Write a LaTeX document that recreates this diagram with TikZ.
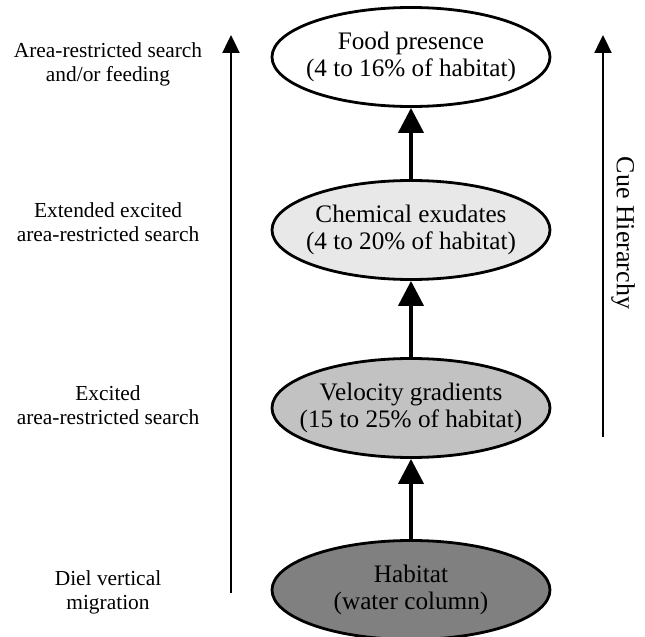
\documentclass[tikz,border=0pt]{standalone}
\usepackage{fontspec}
\setmainfont{Liberation Serif}
\usetikzlibrary{shapes.geometric,arrows.meta}
\definecolor{chemgray}{gray}{0.91}
\definecolor{velogray}{gray}{0.76}
\definecolor{habigray}{gray}{0.50}
\begin{document}
\begin{tikzpicture}[x=0.5pt, y=-0.5pt]
    \tikzstyle{cue}=[draw, line width=1.4pt, shape=ellipse, minimum width=139pt, minimum height=49.5pt, inner sep=0pt]
    \tikzstyle{cuetext}=[align=center, font=\fontsize{12.6}{13.5}\selectfont]
    \tikzstyle{behaviour}=[align=center, font=\fontsize{10.7}{12}\selectfont]
    \tikzstyle{step up}=[line width=2pt, -{Triangle[length=12.5pt, width=12.5pt]}]
    \tikzstyle{side}=[line width=1.2pt, -{Triangle[length=9pt, width=8.5pt]}]
    \useasboundingbox (0,0) rectangle (645,637);

    % draw cues
    \foreach \m/\c/\y/\l in {habitat/habigray/590/{Habitat\\(water column)},
                             velocity/velogray/408/{Velocity gradients\\(15 to 25\% of habitat)},
                             chemical/chemgray/230/{Chemical exudates\\(4 to 20\% of habitat)},
                             food/white/57/{Food presence\\(4 to 16\% of habitat)}}
    \node [cue, fill=\c, label={[cuetext]center:\l}] (\m) at (411,\y) {};

    % draw behaviours
    \foreach \m/\y/\l in {diel/592/{Diel vertical\\migration},
                          excited/405/{Excited\\area-restricted search},
                          extended/222/{Extended excited\\area-restricted search},
                          feeding/64/{Area-restricted search\\and/or feeding}}
    \node [behaviour] (\m) at (108,\y) {\l};

    % draw lines
    \draw [step up] (habitat) -- (velocity);
    \draw [step up] (velocity) -- (chemical);
    \draw [step up] (chemical) -- (food);

    \coordinate (behaviour-start) at (231,593);
    \coordinate (behaviour-end) at (231,35);
    \draw [side] (behaviour-start) -- (behaviour-end);

    \coordinate (hierarchy-start) at (603,437);
    \coordinate (hierarchy-end) at (603,35);
    \draw [side] (hierarchy-start) -- (hierarchy-end);
    \node [rotate=-90, font=\fontsize{13}{14}\selectfont] (hierarchy) at (623,233) {Cue Hierarchy};
\end{tikzpicture}
\end{document}
